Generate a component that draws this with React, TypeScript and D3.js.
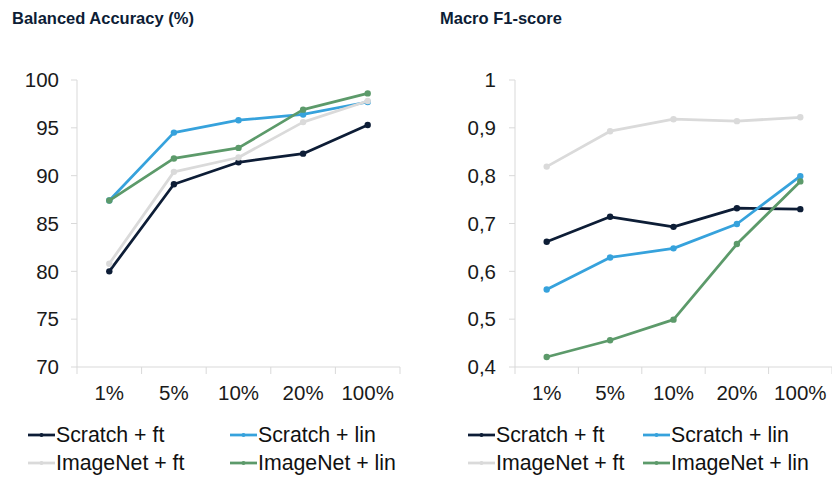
import React from "react";
import * as d3 from "d3";

// Training-set fractions
const categories = ["1%", "5%", "10%", "20%", "100%"];

// Series names and colours
const seriesNames = ["Scratch + ft", "Scratch + lin", "ImageNet + ft", "ImageNet + lin"];
const seriesColors = ["#0d1d36", "#36a2dc", "#dadada", "#5c9a6a"];

// Balanced accuracy (%)
const accScratchFt = [80.0, 89.1, 91.4, 92.3, 95.3];
const accScratchLin = [87.4, 94.5, 95.8, 96.4, 97.7];
const accImageNetFt = [80.8, 90.4, 91.9, 95.6, 97.8];
const accImageNetLin = [87.4, 91.8, 92.9, 96.9, 98.6];

// Macro F1-score
const f1ScratchFt = [0.662, 0.714, 0.693, 0.732, 0.730];
const f1ScratchLin = [0.562, 0.629, 0.648, 0.699, 0.799];
const f1ImageNetFt = [0.819, 0.893, 0.918, 0.914, 0.922];
const f1ImageNetLin = [0.421, 0.456, 0.499, 0.657, 0.788];

// Y-axis tick values
const accTicks = [70, 75, 80, 85, 90, 95, 100];
const f1Ticks = [0.4, 0.5, 0.6, 0.7, 0.8, 0.9, 1];

const W = 832;
const H = 479;
const FONT = "'Liberation Sans', Arial, sans-serif";
const AXIS = "#d9d9d9";

type PanelProps = {
  title: string;
  titleX: number;
  x0: number;
  x1: number;
  labelX: number;
  legendCols: number[];
  domain: [number, number];
  ticks: number[];
  fmt: (v: number) => string;
  series: number[][];
};

function Panel({ title, titleX, x0, x1, labelX, legendCols, domain, ticks, fmt, series }: PanelProps) {
  const x = d3.scaleBand<string>().domain(categories).range([x0, x1]).padding(0);
  const y = d3.scaleLinear().domain(domain).range([367, 80]);
  const line = d3
    .line<number>()
    .x((_, i) => (x(categories[i]) as number) + x.bandwidth() / 2)
    .y((d) => y(d));
  const bounds = categories.map((c) => x(c) as number).concat([x1]);

  const legendRows = [435, 463];

  return (
    <g>
      <text x={titleX} y={24} fontFamily={FONT} fontWeight="bold" fontSize={16.5} fill="#0d1d36">
        {title}
      </text>
      {/* y axis */}
      <line x1={x0} x2={x0} y1={y(domain[1])} y2={y(domain[0])} stroke={AXIS} strokeWidth={1} />
      {ticks.map((t) => (
        <g key={t}>
          <line x1={x0 - 6} x2={x0} y1={y(t)} y2={y(t)} stroke={AXIS} strokeWidth={1} />
          <text
            x={labelX}
            y={y(t)}
            dy="0.35em"
            textAnchor="end"
            fontFamily={FONT}
            fontSize={20.5}
            fill="#1a1a1a"
          >
            {fmt(t)}
          </text>
        </g>
      ))}
      {/* x axis */}
      <line x1={x0} x2={x1} y1={y(domain[0])} y2={y(domain[0])} stroke={AXIS} strokeWidth={1} />
      {bounds.map((b, i) => (
        <line key={i} x1={b} x2={b} y1={y(domain[0])} y2={y(domain[0]) + 7} stroke={AXIS} strokeWidth={1} />
      ))}
      {categories.map((c) => (
        <text
          key={c}
          x={(x(c) as number) + x.bandwidth() / 2}
          y={400}
          textAnchor="middle"
          fontFamily={FONT}
          fontSize={20.5}
          fill="#1a1a1a"
        >
          {c}
        </text>
      ))}
      {/* series */}
      {series.map((vals, si) => (
        <g key={si}>
          <path d={line(vals) || ""} fill="none" stroke={seriesColors[si]} strokeWidth={2.75} strokeLinejoin="round" />
          {vals.map((v, i) => (
            <circle
              key={i}
              cx={(x(categories[i]) as number) + x.bandwidth() / 2}
              cy={y(v)}
              r={3.2}
              fill={seriesColors[si]}
            />
          ))}
        </g>
      ))}
      {/* legend */}
      {seriesNames.map((name, si) => {
        const lx = legendCols[si % 2];
        const ly = legendRows[Math.floor(si / 2)];
        return (
          <g key={name}>
            <line x1={lx} x2={lx + 27} y1={ly} y2={ly} stroke={seriesColors[si]} strokeWidth={2.75} />
            <circle cx={lx + 13.5} cy={ly} r={2} fill={seriesColors[si]} />
            <text x={lx + 28} y={ly} dy="0.35em" fontFamily={FONT} fontSize={21.3} fill="#111">
              {name}
            </text>
          </g>
        );
      })}
    </g>
  );
}

export default function App() {
  const accSeries = [accScratchFt, accScratchLin, accImageNetFt, accImageNetLin];
  const f1Series = [f1ScratchFt, f1ScratchLin, f1ImageNetFt, f1ImageNetLin];
  const f1Fmt = (v: number) => (v === 1 ? "1" : d3.format(".1f")(v).replace(".", ","));
  return (
    <svg
      width={W}
      height={H}
      style={{ position: "absolute", left: 0, top: 0, background: "#fff" }}
    >
      <rect width={W} height={H} fill="#fff" />
      <Panel
        title="Balanced Accuracy (%)"
        titleX={12}
        x0={77}
        x1={400}
        labelX={59}
        legendCols={[28, 230]}
        domain={[70, 100]}
        ticks={accTicks}
        fmt={(v) => String(v)}
        series={accSeries}
      />
      <Panel
        title="Macro F1-score"
        titleX={440}
        x0={515}
        x1={832}
        labelX={496}
        legendCols={[468, 643]}
        domain={[0.4, 1]}
        ticks={f1Ticks}
        fmt={f1Fmt}
        series={f1Series}
      />
    </svg>
  );
}
